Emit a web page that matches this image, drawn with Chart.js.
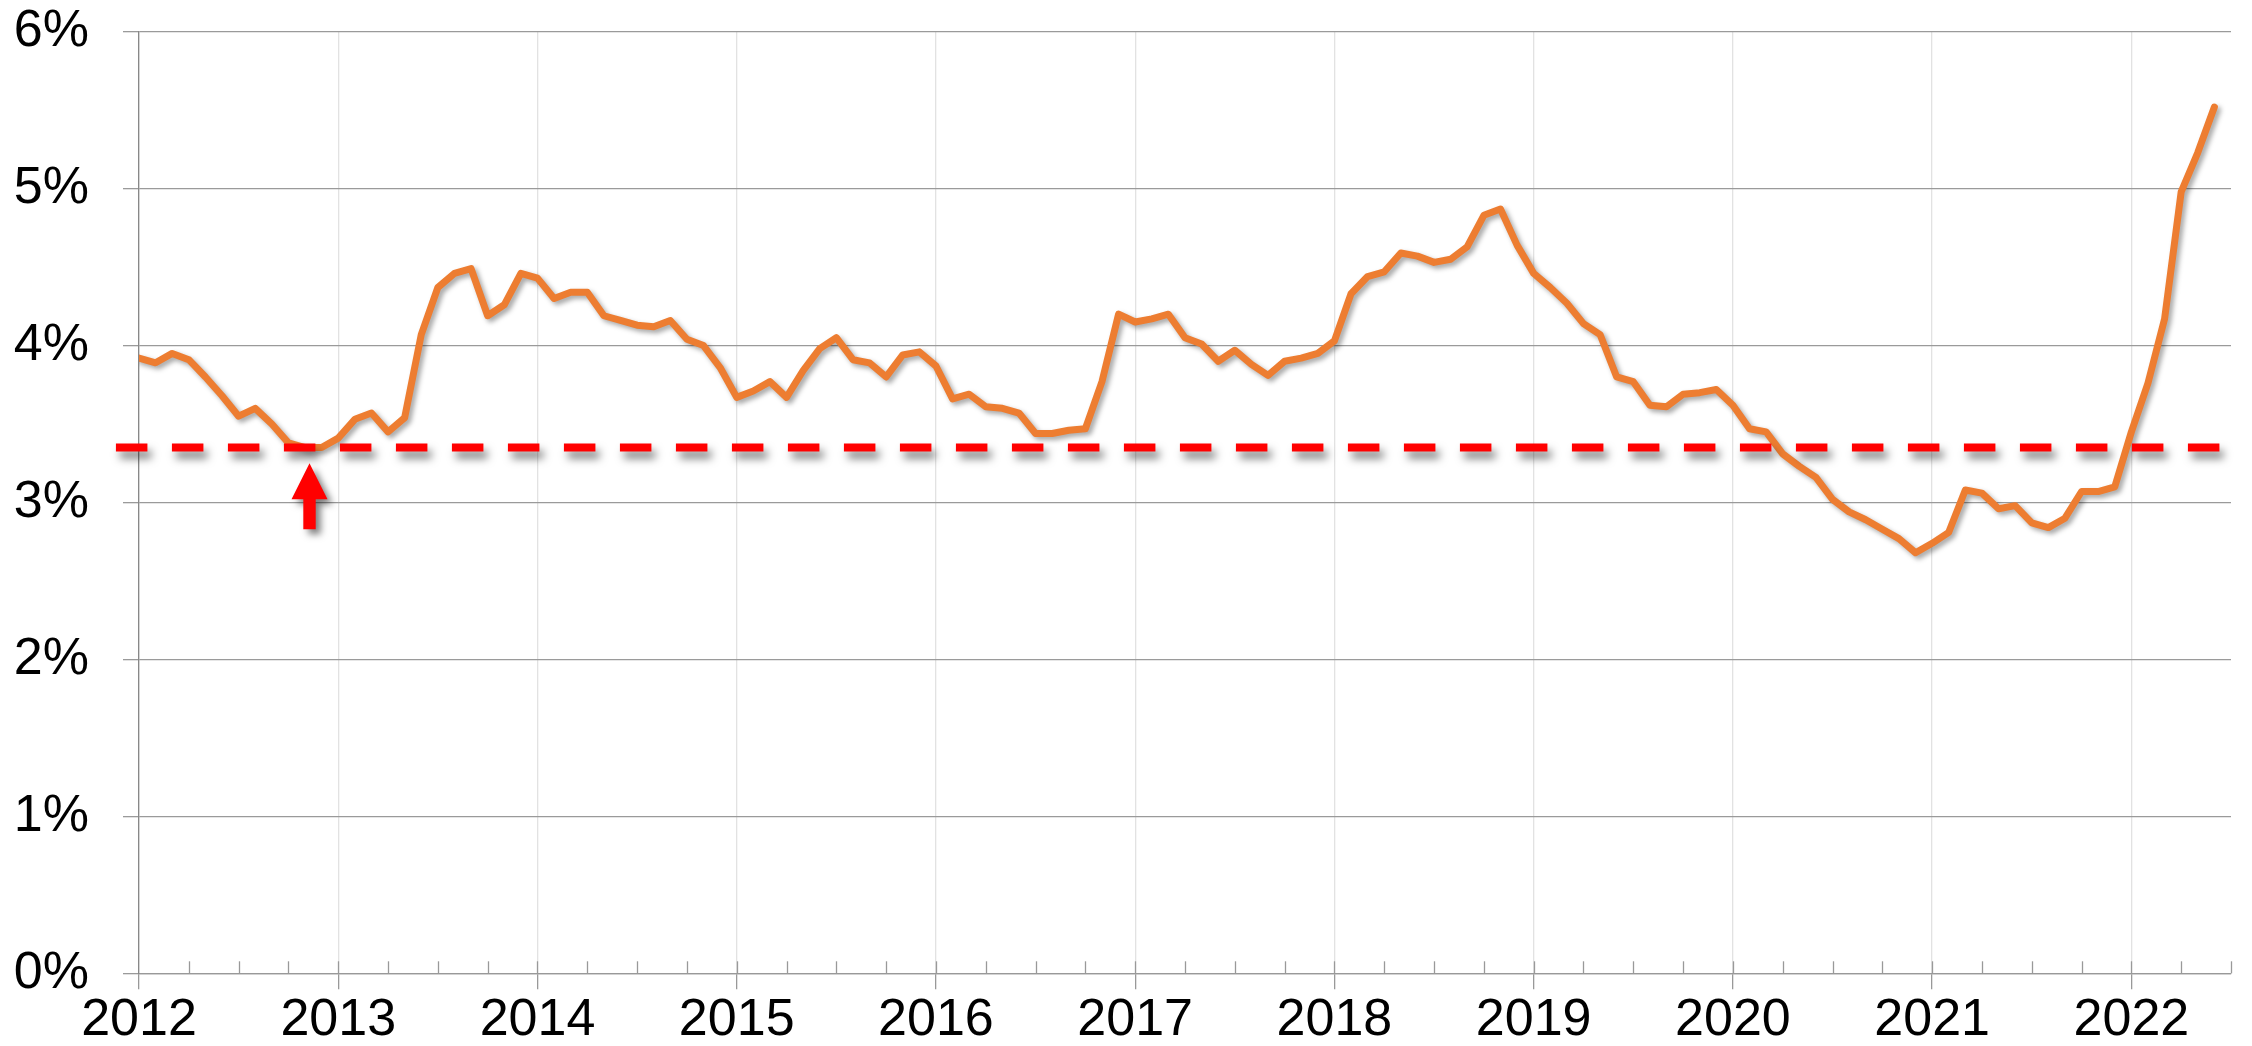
<!DOCTYPE html>
<html><head><meta charset="utf-8">
<script src="https://cdn.jsdelivr.net/npm/chart.js@4/dist/chart.umd.min.js"></script>
<style>html,body{margin:0;padding:0;background:#fff;}canvas{display:block;}</style>
</head><body>
<canvas id="c" width="2252" height="1046"></canvas>
<script>
// ---- data (monthly values, %) ----
const startYear = 2012;
const rates2012 = [3.92,3.89,3.95,3.91,3.80,3.68,3.55,3.60,3.50,3.38,3.35,3.35];
const rates2013 = [3.41,3.53,3.57,3.45,3.54,4.07,4.37,4.46,4.49,4.19,4.26,4.46];
const rates2014 = [4.43,4.30,4.34,4.34,4.19,4.16,4.13,4.12,4.16,4.04,4.00,3.86];
const rates2015 = [3.67,3.71,3.77,3.67,3.84,3.98,4.05,3.91,3.89,3.80,3.94,3.96];
const rates2016 = [3.87,3.66,3.69,3.61,3.60,3.57,3.44,3.44,3.46,3.47,3.77,4.20];
const rates2017 = [4.15,4.17,4.20,4.05,4.01,3.90,3.97,3.88,3.81,3.90,3.92,3.95];
const rates2018 = [4.03,4.33,4.44,4.47,4.59,4.57,4.53,4.55,4.63,4.83,4.87,4.64];
const rates2019 = [4.46,4.37,4.27,4.14,4.07,3.80,3.77,3.62,3.61,3.69,3.70,3.72];
const rates2020 = [3.62,3.47,3.45,3.31,3.23,3.16,3.02,2.94,2.89,2.83,2.77,2.68];
const rates2021 = [2.74,2.81,3.08,3.06,2.96,2.98,2.87,2.84,2.90,3.07,3.07,3.10];
const rates2022 = [3.45,3.76,4.17,4.98,5.23,5.52];
const yearLabels = ['2012','2013','2014','2015','2016','2017','2018','2019','2020','2021','2022'];
const yTickValues = [0,1,2,3,4,5,6];
const refLevel = 3.35;          // red dashed reference level
const refLineMonths = [-1.39, 126];
const arrowMonth = 10.27, arrowTip = 3.25, arrowHeadBase = 3.02, arrowTail = 2.83;

const allRates = [].concat(rates2012,rates2013,rates2014,rates2015,rates2016,rates2017,
                           rates2018,rates2019,rates2020,rates2021,rates2022);
const ratePoints = allRates.map((v,i)=>({x:i,y:v}));
const refPoints = refLineMonths.map(m=>({x:m,y:refLevel}));

const shadowPlugin = {
  id:'shadows',
  beforeDatasetDraw(chart,args){
    const ctx=chart.ctx; ctx.save();
    if(args.index===0){ ctx.shadowColor='rgba(0,0,0,0.5)'; ctx.shadowBlur=9; ctx.shadowOffsetX=4; ctx.shadowOffsetY=7; }
    else { ctx.shadowColor='rgba(0,0,0,0.35)'; ctx.shadowBlur=5; ctx.shadowOffsetX=3; ctx.shadowOffsetY=3; }
  },
  afterDatasetDraw(chart){ chart.ctx.restore(); }
};

const minorTicks = {
  id:'minorTicks',
  beforeDatasetsDraw(chart){
    const x=chart.scales.x, y=chart.scales.y, ctx=chart.ctx;
    const yb=y.getPixelForValue(0);
    ctx.save(); ctx.strokeStyle='#999'; ctx.lineWidth=1.3;
    for(let v=3; v<=126; v+=3){
      const px=Math.round(x.getPixelForValue(v))+0.5;
      ctx.beginPath(); ctx.moveTo(px,yb-12); ctx.lineTo(px,yb); ctx.stroke();
    }
    ctx.restore();
  }
};

const arrowPlugin = {
  id:'arrow',
  afterDatasetsDraw(chart){
    const x=chart.scales.x, y=chart.scales.y, ctx=chart.ctx;
    const cx=x.getPixelForValue(arrowMonth);
    const tip=y.getPixelForValue(arrowTip), base=y.getPixelForValue(arrowHeadBase), tail=y.getPixelForValue(arrowTail);
    ctx.save();
    ctx.shadowColor='rgba(0,0,0,0.5)'; ctx.shadowBlur=7; ctx.shadowOffsetX=5; ctx.shadowOffsetY=5;
    ctx.fillStyle='#ff0000';
    ctx.beginPath();
    ctx.moveTo(cx,tip); ctx.lineTo(cx+18,base); ctx.lineTo(cx+6.2,base); ctx.lineTo(cx+6.2,tail);
    ctx.lineTo(cx-6.2,tail); ctx.lineTo(cx-6.2,base); ctx.lineTo(cx-18,base); ctx.closePath();
    ctx.fill();
    ctx.restore();
  }
};

new Chart(document.getElementById('c'),{
  type:'line',
  data:{datasets:[
    {data:refPoints,borderColor:'#ff0000',borderWidth:8,borderDash:[31.5,24.5],pointRadius:0,clip:false,fill:false},
    {data:ratePoints,borderColor:'#ED7D31',borderWidth:7,pointRadius:0,tension:0,borderJoinStyle:'round',borderCapStyle:'round',fill:false}
  ]},
  options:{
    responsive:false, animation:false, devicePixelRatio:1,
    layout:{padding:{top:0,right:21,left:0,bottom:0}},
    plugins:{legend:{display:false},tooltip:{enabled:false}},
    scales:{
      x:{type:'linear',min:0,max:126,
        afterFit(s){s.height=72.7; s.paddingLeft=0; s.paddingRight=0;},
        ticks:{stepSize:3,autoSkip:false,maxRotation:0,maxTicksLimit:200,padding:0,color:'#000',
          font:{family:'"Liberation Sans", Arial, sans-serif',size:52},
          callback:(v)=> v%12===0 ? yearLabels[v/12] : ''},
        grid:{lineWidth:1.3,tickLength:16,
          color:(c)=> (c.tick && c.tick.value%12===0) ? '#e2e2e2' : 'rgba(0,0,0,0)',
          tickColor:(c)=> (c.tick && c.tick.value%12===0 && c.tick.value<126) ? '#999' : 'rgba(0,0,0,0)'},
        border:{color:'#999',width:1.3}
      },
      y:{min:0,max:6,
        afterFit(s){s.width=139; s.paddingTop=31.7; s.paddingBottom=0;},
        afterBuildTicks(s){s.ticks=yTickValues.map(v=>({value:v}));},
        ticks:{padding:34,color:'#000',font:{family:'"Liberation Sans", Arial, sans-serif',size:52},
          callback:(v)=> v+'%'},
        grid:{color:'#9a9a9a',lineWidth:1.3,tickLength:16,tickColor:'#9a9a9a'},
        border:{color:'#888',width:1.3}
      }
    }
  },
  plugins:[minorTicks,shadowPlugin,arrowPlugin]
});
</script>
</body></html>
